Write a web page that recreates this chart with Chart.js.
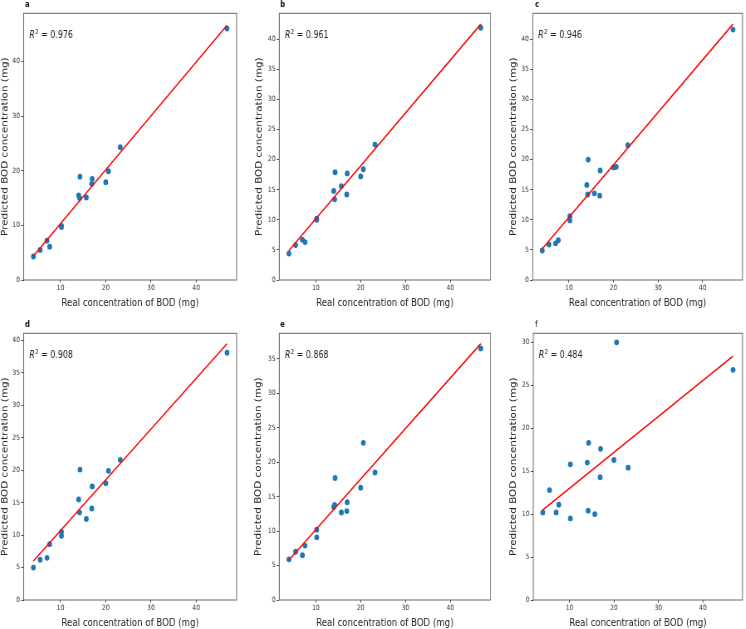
<!DOCTYPE html>
<html>
<head>
<meta charset="utf-8">
<script src="https://cdn.jsdelivr.net/npm/chart.js@4.4.1/dist/chart.umd.min.js"></script>
<style>
    html, body { margin: 0; padding: 0; background: #fff; }
    #fig { position: relative; width: 746px; height: 629px; overflow: hidden; }
    #fig canvas { position: absolute; transform-origin: 0 0; }
</style>
</head>
<body>
<div id="fig"></div>
<script>
// Valeurs réelles de DBO (communes aux six modèles)
const realX = [4.0, 5.5, 7.0, 7.6, 10.2, 10.2, 14.0, 14.3, 14.2, 15.7, 16.9, 17.0, 20.0, 20.6, 23.2, 46.8];

// Valeurs prédites par panneau
const predA = [4.3, 5.5, 7.2, 6.1, 9.7, 9.9, 15.5, 18.9, 15.0, 15.1, 17.6, 18.5, 17.9, 19.9, 24.3, 46.0];
const predB = [4.4, 5.8, 6.7, 6.3, 10.0, 10.2, 14.8, 17.9, 13.4, 15.6, 14.2, 17.7, 17.2, 18.4, 22.5, 41.9];
const predC = [4.9, 5.9, 6.1, 6.6, 10.6, 9.9, 15.8, 20.0, 14.2, 14.4, 14.0, 18.2, 18.7, 18.8, 22.4, 41.6];
const predD = [5.0, 6.2, 6.5, 8.6, 10.5, 9.9, 15.5, 20.1, 13.5, 12.5, 14.1, 17.5, 18.0, 19.9, 21.6, 38.1];
const predE = [5.9, 7.0, 6.5, 7.9, 10.2, 9.1, 13.5, 17.7, 13.8, 12.7, 12.9, 14.2, 16.3, 22.8, 18.5, 36.5];
const predF = [10.2, 12.8, 10.2, 11.1, 15.8, 9.5, 16.0, 18.3, 10.4, 10.0, 14.3, 17.6, 16.3, 30.0, 15.4, 26.8];

// Droites de régression (extrémités)
const fitX = [4.0, 46.8];
const fitA = [4.4, 46.6];
const fitB = [4.9, 42.5];
const fitC = [5.2, 42.5];
const fitD = [6.0, 39.5];
const fitE = [5.8, 37.2];
const fitF = [10.5, 28.4];

const r2Values = ['0.976', '0.961', '0.946', '0.908', '0.868', '0.484'];
const panelLetters = ['a', 'b', 'c', 'd', 'e', 'f'];

// Graduations
const xTicks = [10, 20, 30, 40];
const yTicksA = [0, 10, 20, 30, 40];
const yTicksB = [0, 5, 10, 15, 20, 25, 30, 35, 40];
const yTicksE = [0, 5, 10, 15, 20, 25, 30, 35];
const yTicksF = [0, 5, 10, 15, 20, 25, 30];

const X_MIN = 1.86, X_MAX = 48.94;
const yMaxes = [48.8, 44.3, 44.3, 41.1, 38.7, 31.05];

const FONT = "'DejaVu Sans', sans-serif";
// La figure d'origine est comprimée horizontalement
const SX = 0.83;

// Mise en page (coordonnées de la page)
const layouts = [
    { left: 0,   top: 0,   w: 246, h: 310, padLeft: 0.7,  areaLeft: 23.7, areaRight: 237,   padTop: 13.3, axisH: 30, titleOff: 7,   letterX: 25, letterY: 5 },
    { left: 250, top: 0,   w: 246, h: 310, padLeft: 4.7,  areaLeft: 29.3, areaRight: 240.7, padTop: 13.3, axisH: 30, titleOff: 7,   letterX: 30, letterY: 5 },
    { left: 496, top: 0,   w: 250, h: 310, padLeft: 13.4, areaLeft: 36.7, areaRight: 249.3, padTop: 13.3, axisH: 30, titleOff: 7,   letterX: 39, letterY: 5 },
    { left: 0,   top: 310, w: 246, h: 319, padLeft: 0.7,  areaLeft: 23.7, areaRight: 237,   padTop: 23.3, axisH: 29, titleOff: 5.7, letterX: 25, letterY: 15 },
    { left: 250, top: 310, w: 246, h: 319, padLeft: 4.5,  areaLeft: 29.3, areaRight: 240.7, padTop: 23.3, axisH: 29, titleOff: 5.7, letterX: 30, letterY: 15 },
    { left: 496, top: 310, w: 250, h: 319, padLeft: 13.2, areaLeft: 37.3, areaRight: 249.3, padTop: 23.3, axisH: 29, titleOff: 5.7, letterX: 39, letterY: 15 }
];

const panels = [
    { pred: predA, fit: fitA, yTicks: yTicksA },
    { pred: predB, fit: fitB, yTicks: yTicksB },
    { pred: predC, fit: fitC, yTicks: yTicksB },
    { pred: predD, fit: fitD, yTicks: yTicksB },
    { pred: predE, fit: fitE, yTicks: yTicksE },
    { pred: predF, fit: fitF, yTicks: yTicksF }
];

// Cadre + texte R² + lettre du panneau
const annotPlugin = {
    id: 'annot',
    afterDatasetsDraw(chart, args, opts) {
        const ctx = chart.ctx;
        const a = chart.chartArea;
        ctx.save();
        ctx.strokeStyle = '#666';
        ctx.lineWidth = 1;
        ctx.strokeRect(a.left, a.top, a.right - a.left, a.bottom - a.top);

        // R² = ...
        let x = a.left + 5.5 / SX;
        const y = a.top + 22.5;
        ctx.fillStyle = '#222';
        ctx.textBaseline = 'middle';
        ctx.textAlign = 'left';
        ctx.font = 'italic 9.6px ' + FONT;
        ctx.fillText('R', x, y);
        x += ctx.measureText('R').width + 0.3;
        ctx.font = '6.6px ' + FONT;
        ctx.fillText('2', x, y - 3.6);
        x += ctx.measureText('2').width;
        ctx.font = '9.6px ' + FONT;
        ctx.fillText(' = ' + opts.r2, x, y);

        // lettre
        ctx.font = (opts.letter === 'f' ? '' : 'bold ') + '8.5px ' + FONT;
        ctx.fillStyle = '#111';
        ctx.fillText(opts.letter, opts.letterX, opts.letterY);
        ctx.restore();
    }
};

const fig = document.getElementById('fig');

panels.forEach((p, i) => {
    const L = layouts[i];
    const w = L.w / SX;            // largeur interne du canvas
    const canvas = document.createElement('canvas');
    canvas.style.left = L.left + 'px';
    canvas.style.top = L.top + 'px';
    canvas.style.width = w + 'px';
    canvas.style.height = L.h + 'px';
    canvas.style.transform = 'scaleX(' + SX + ')';
    canvas.width = Math.round(w);
    canvas.height = L.h;
    fig.appendChild(canvas);

    const scatterData = realX.map((x, k) => ({ x: x, y: p.pred[k] }));
    const lineData = fitX.map((x, k) => ({ x: x, y: p.fit[k] }));

    new Chart(canvas.getContext('2d'), {
        type: 'scatter',
        data: {
            datasets: [
                {
                    type: 'line',
                    data: lineData,
                    borderColor: '#ff0000',
                    borderWidth: 1.5,
                    pointRadius: 0,
                    fill: false,
                    order: 0
                },
                {
                    type: 'scatter',
                    data: scatterData,
                    backgroundColor: '#1f77b4',
                    borderWidth: 0,
                    pointRadius: 2.9,
                    order: 1
                }
            ]
        },
        options: {
            responsive: false,
            animation: false,
            devicePixelRatio: 1,
            layout: {
                padding: {
                    left: L.padLeft / SX,
                    right: (L.w - L.areaRight) / SX,
                    top: L.padTop,
                    bottom: 0
                }
            },
            plugins: {
                legend: { display: false },
                tooltip: { enabled: false },
                annot: {
                    r2: r2Values[i],
                    letter: panelLetters[i],
                    letterX: L.letterX / SX,
                    letterY: L.letterY
                }
            },
            scales: {
                x: {
                    type: 'linear',
                    min: X_MIN,
                    max: X_MAX,
                    afterBuildTicks: (scale) => { scale.ticks = xTicks.map(v => ({ value: v })); },
                    afterFit: (scale) => { scale.height = L.axisH; },
                    grid: { drawOnChartArea: false, drawTicks: true, tickLength: 2.5, color: '#444' },
                    border: { display: false },
                    ticks: { padding: 1, color: '#333', font: { family: FONT, size: 7.3 }, maxRotation: 0 },
                    title: {
                        display: true,
                        text: 'Real concentration of BOD (mg)',
                        color: '#222',
                        font: { family: FONT, size: 10.4, lineHeight: 1 },
                        padding: { top: 0, bottom: L.titleOff - 5.2 }
                    }
                },
                y: {
                    type: 'linear',
                    min: 0,
                    max: yMaxes[i],
                    afterBuildTicks: (scale) => { scale.ticks = p.yTicks.map(v => ({ value: v })); },
                    afterFit: (scale) => { scale.width = (L.areaLeft - L.padLeft) / SX; },
                    grid: { drawOnChartArea: false, drawTicks: true, tickLength: 3, color: '#444' },
                    border: { display: false },
                    ticks: { padding: 1.5, color: '#333', font: { family: FONT, size: 7.3 } },
                    title: {
                        display: true,
                        text: 'Predicted BOD concentration (mg)',
                        color: '#222',
                        font: { family: FONT, size: 10.4, lineHeight: 1 },
                        padding: 0
                    }
                }
            }
        },
        plugins: [annotPlugin]
    });
});
</script>
</body>
</html>
